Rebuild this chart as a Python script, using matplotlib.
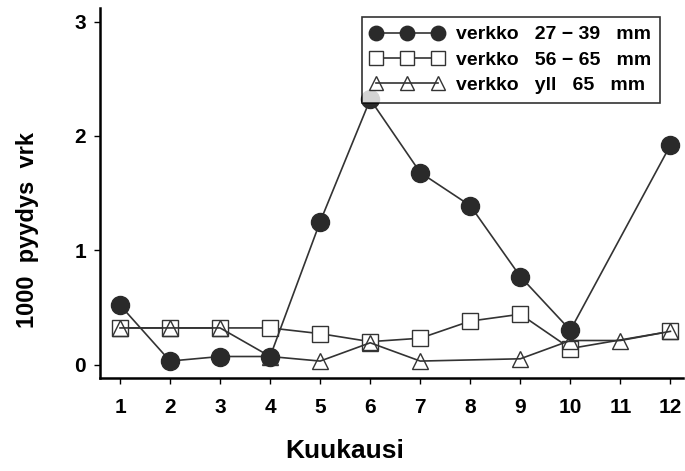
import numpy as np
import matplotlib
matplotlib.use('Agg')
import matplotlib.pyplot as plt

plt.rcParams['font.family'] = ['Liberation Sans', 'DejaVu Sans']
plt.rcParams['font.weight'] = 'bold'

## data (1000 pyydys vrk per month)
kk_small = [1, 2, 3, 4, 5, 6, 7, 8, 9, 10, 12]
v_small  = [0.52, 0.03, 0.07, 0.07, 1.25, 2.32, 1.68, 1.39, 0.77, 0.30, 1.92]

kk_mid   = [1, 2, 3, 4, 5, 6, 7, 8, 9, 10, 12]
v_mid    = [0.32, 0.32, 0.32, 0.32, 0.27, 0.20, 0.23, 0.38, 0.44, 0.14, 0.29]

kk_big   = [1, 2, 3, 4, 5, 6, 7, 9, 10, 11, 12]
v_big    = [0.32, 0.32, 0.32, 0.07, 0.03, 0.19, 0.03, 0.05, 0.21, 0.21, 0.29]

labels = ['verkko   27 \u2212 39   mm', 'verkko   56 \u2212 65   mm', 'verkko   yll   65   mm']
months = np.arange(1, 13)

fig = plt.figure(figsize=(6.85, 4.71), dpi=100, facecolor='w')
ax = fig.add_axes([0.146, 0.197, 0.851, 0.786])

lc = '#333333'
ax.plot(kk_small, v_small, '-o', color=lc, lw=1.2, ms=13, mfc='#2a2a2a', mec='#2a2a2a', label=labels[0], zorder=3)
ax.plot(kk_mid, v_mid, '-s', color=lc, lw=1.2, ms=12, mfc='white', mec=lc, mew=1.0, label=labels[1], zorder=2)
ax.plot(kk_big, v_big, '-^', color=lc, lw=1.2, ms=12, mfc='none', mec=lc, mew=1.0, label=labels[2], zorder=2)

ax.set_xlim(0.6, 12.25)
ax.set_ylim(-0.12, 3.12)
ax.set_xticks(months)
ax.set_yticks([0, 1, 2, 3])
ax.tick_params(axis='both', direction='out', length=4, width=1, labelsize=15, pad=6)
ax.tick_params(axis='x', pad=10)

for s in ['top', 'right']:
    ax.spines[s].set_visible(False)
ax.spines['left'].set_linewidth(1.8)
ax.spines['bottom'].set_linewidth(1.8)

ax.set_xlabel('Kuukausi', fontsize=19, fontweight='bold')
ax.set_ylabel('1000  pyydys  vrk', fontsize=17, fontweight='bold')
ax.xaxis.set_label_coords(0.42, -0.165)
ax.yaxis.set_label_coords(-0.105, 0.40)

leg = fig.legend(loc='upper left', bbox_to_anchor=(0.528, 0.964), numpoints=3, fontsize=14,
                 frameon=True, fancybox=False, edgecolor='black', markerscale=0.8,
                 handlelength=3.8, borderpad=0.45, labelspacing=0.4, handletextpad=0.6,
                 borderaxespad=0)
leg.get_frame().set_linewidth(1.2)

plt.savefig('out.png', dpi=100)
